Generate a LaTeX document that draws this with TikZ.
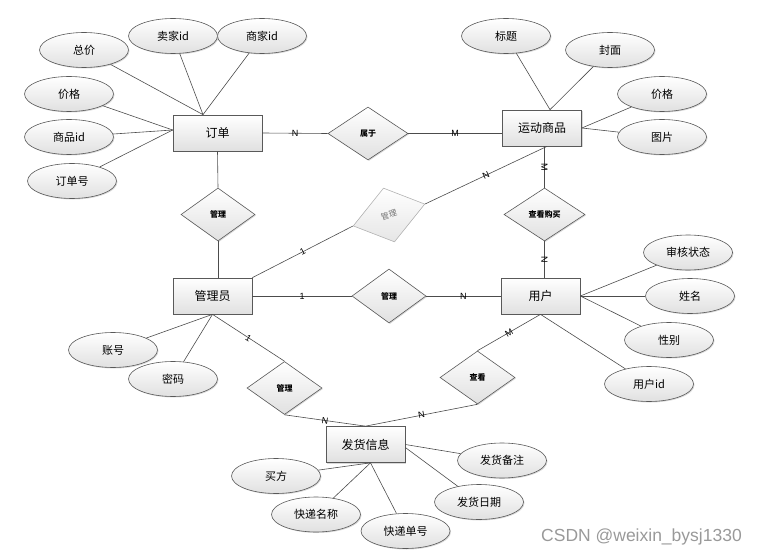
\documentclass[tikz,border=0pt]{standalone}
\usepackage{fontspec}
\setmainfont{Liberation Sans}
\newfontfamily\cjk{Noto Sans CJK SC}
\usetikzlibrary{shapes.geometric,shadows}
\tikzset{
  shad/.style={drop shadow={opacity=0.3,shadow xshift=1pt,shadow yshift=-1pt}},
  entity/.style={rectangle, draw=black!65, line width=0.7pt, top color=white, bottom color=black!12,
    minimum width=79pt, minimum height=36pt, inner sep=0pt, shad,
    font=\cjk\fontsize{12}{14}\selectfont},
  attr/.style={ellipse, draw=black!65, line width=0.6pt, top color=white, bottom color=black!12,
    minimum width=89pt, minimum height=35pt, inner sep=0pt, shad,
    font=\cjk\fontsize{11}{13}\selectfont},
  rel/.style={diamond, draw=black!65, line width=0.6pt, top color=white, bottom color=black!12,
    minimum width=74pt, minimum height=53pt, inner sep=0pt, shad,
    font=\cjk\fontsize{8}{10}\selectfont\bfseries},
  faint/.style={diamond, draw=black!30, line width=0.6pt, top color=white, bottom color=black!10,
    minimum width=75pt, minimum height=55pt, inner sep=0pt},
  fainttext/.style={text=black!55, inner sep=0pt, font=\cjk\fontsize{8}{10}\selectfont},
  conn/.style={draw=black!70, line width=0.6pt},
  card/.style={font=\fontsize{9}{10}\selectfont, inner sep=0.5pt},
}
\begin{document}
\begin{tikzpicture}[x=1pt,y=-1pt]
\useasboundingbox (0,0) rectangle (765,556);
% entities
\node[entity, minimum width=89pt] (dd) at (217.5,133) {订单};
\node[entity] (sp) at (542,128) {运动商品};
\node[entity] (gly) at (212.5,296) {管理员};
\node[entity] (yh) at (540.5,296) {用户};
\node[entity] (fh) at (365.5,444.5) {发货信息};
% relations
\node[rel, minimum width=80pt] (sy) at (368,133.5) {属于};
\node[rel] (gl1) at (218,214.5) {管理};
\node[faint, cm={0.956,0.292,-0.2,0.98,(0,0)}] (gl2) at (389,215) {};
\node[fainttext, rotate=17] (gl2t) at (gl2.center) {管理};
\node[rel, minimum width=81pt] (ck) at (544.5,214.5) {查看购买};
\node[rel, minimum height=54pt] (gl3) at (389,296) {管理};
\node[rel, minimum width=75pt] (gl4) at (284.5,388) {管理};
\node[rel, minimum width=75pt] (ckk) at (477.5,377.5) {查看};
% attributes
\node[attr] (zj) at (84,50) {总价};
\node[attr] (mj) at (173,36) {卖家id};
\node[attr] (sj) at (262,36) {商家id};
\node[attr] (jg1) at (69,94) {价格};
\node[attr] (spid) at (69,137) {商品id};
\node[attr] (ddh) at (72,181) {订单号};
\node[attr] (bt) at (506,36) {标题};
\node[attr] (fm) at (610,50) {封面};
\node[attr] (jg2) at (662,94) {价格};
\node[attr] (tp) at (662,137) {图片};
\node[attr] (shzt) at (688,252.5) {审核状态};
\node[attr] (xm) at (690,296) {姓名};
\node[attr] (xb) at (669,340) {性别};
\node[attr] (yhid) at (649,384) {用户id};
\node[attr] (zh) at (113,350) {账号};
\node[attr] (mm) at (173,379) {密码};
\node[attr] (mf) at (276,476) {买方};
\node[attr] (kdmc) at (316,514.5) {快递名称};
\node[attr] (kddh) at (405.5,531) {快递单号};
\node[attr] (fhrq) at (479,502) {发货日期};
\node[attr] (fhbz) at (502,460.5) {发货备注};
% anchor points
\coordinate (ddT) at ([xshift=-14.5pt]dd.north);
\coordinate (ddL) at ([yshift=3pt]dd.west);
\coordinate (spT) at ([xshift=8pt]sp.north);
\coordinate (spB) at ([xshift=5pt]sp.south);
\coordinate (fhB) at ([xshift=5pt]fh.south);
\coordinate (fhR) at ([yshift=-3pt]fh.east);
% attribute lines
\draw[conn] (ddT) -- (zj);
\draw[conn] (ddT) -- (mj);
\draw[conn] (ddT) -- (sj);
\draw[conn] (ddL) -- (jg1);
\draw[conn] (ddL) -- (spid);
\draw[conn] (ddL) -- (ddh);
\draw[conn] (spT) -- (bt);
\draw[conn] (spT) -- (fm);
\draw[conn] (sp.east) -- (jg2);
\draw[conn] (sp.east) -- (tp);
\draw[conn] (yh.east) -- (shzt);
\draw[conn] (yh.east) -- (xm);
\draw[conn] (yh.east) -- (xb);
\draw[conn] (yh.south) -- (yhid);
\draw[conn] (gly.south) -- (zh);
\draw[conn] (gly.south) -- (mm);
\draw[conn] (fhB) -- (mf);
\draw[conn] (fhB) -- (kdmc);
\draw[conn] (fhB) -- (kddh);
\draw[conn] (fh.east) -- (fhbz);
\draw[conn] (fhR) -- (fhrq);
% relationship lines
\draw[conn] (dd.east) -- node[card] {N} (sy.west);
\draw[conn] (sy.east) -- node[card] {M} (sy.east -| sp.west);
\draw[conn] (ck.north |- sp.south) -- node[card, sloped] {M} (ck.north);
\draw[conn] (ck.south) -- node[card, sloped] {N} (ck.south |- yh.north);
\draw[conn] (spB) -- node[card, sloped] {N} (gl2.east);
\draw[conn] (gl2.west) -- node[card, sloped] {1} (gly.north east);
\draw[conn] (dd.south) -- (gl1.north);
\draw[conn] (gl1.south) -- (gl1.south |- gly.north);
\draw[conn] (gly.east) -- node[card] {1} (gl3.west);
\draw[conn] (gl3.east) -- node[card] {N} (yh.west);
\draw[conn] (gly.south) -- node[card, sloped] {1} (gl4.north);
\draw[conn] (gl4.south) -- node[card, sloped] {N} (fh.north);
\draw[conn] (ckk.south) -- node[card, sloped] {N} (fh.north);
\draw[conn] (ckk.north) -- node[card, sloped] {M} (yh.south);
% watermark
\node[text=black!40, font=\fontsize{17.5}{20}\selectfont, inner sep=0pt] (wm) at (641.5,537) {CSDN @weixin\_bysj1330};
\end{tikzpicture}
\end{document}
